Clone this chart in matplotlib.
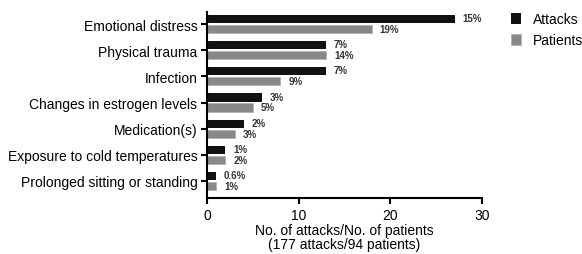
import numpy as np
import matplotlib
matplotlib.use("Agg")
import matplotlib.pyplot as plt

plt.rcParams['font.family'] = ['Liberation Sans', 'DejaVu Sans']

categories = ["Emotional distress", "Physical trauma", "Infection",
              "Changes in estrogen levels", "Medication(s)",
              "Exposure to cold temperatures", "Prolonged sitting or standing"]
attacks = [27, 13, 13, 6, 4, 2, 1]
patients = [18, 13, 8, 5, 3, 2, 1]
attacks_pct = ["15%", "7%", "7%", "3%", "2%", "1%", "0.6%"]
patients_pct = ["19%", "14%", "9%", "5%", "3%", "2%", "1%"]

fig = plt.figure(figsize=(5.82, 2.55), dpi=100)
ax = fig.add_axes([0.3557, 0.2196, 0.4725, 0.7294])

y = np.arange(len(categories))
h = 0.31
ax.barh(y - 0.19, attacks, height=h, color="#111111", label="Attacks")
ax.barh(y + 0.19, patients, height=h, color="#888888",
        edgecolor="#b0b0b0", linewidth=0.5, label="Patients")

for i in range(len(categories)):
    ax.text(attacks[i] + 0.85, y[i] - 0.23, attacks_pct[i], fontsize=7,
            va="center", ha="left", fontweight="bold", color="#333333")
    ax.text(patients[i] + 0.85, y[i] + 0.19, patients_pct[i], fontsize=7,
            va="center", ha="left", fontweight="bold", color="#333333")

ax.set_yticks(y)
ax.set_yticklabels(categories, fontsize=10)
ax.set_ylim(6.65, -0.46)
ax.set_xlim(0, 30)
ax.set_xticks([0, 10, 20, 30])
ax.tick_params(axis="x", labelsize=10, width=1.5, length=4, pad=3)
ax.tick_params(axis="y", width=1.5, length=4, pad=3)
for s in ["top", "right"]:
    ax.spines[s].set_visible(False)
for s in ["left", "bottom"]:
    ax.spines[s].set_linewidth(1.5)
ax.set_xlabel("No. of attacks/No. of patients\n(177 attacks/94 patients)",
              fontsize=10, labelpad=1, linespacing=1.0)

ax.legend(loc="upper left", bbox_to_anchor=(1.07, 1.05), frameon=False,
          fontsize=10, handlelength=0.75, handleheight=0.75,
          handletextpad=0.8, labelspacing=0.5, borderaxespad=0.3)

fig.savefig("out.png", dpi=100)
